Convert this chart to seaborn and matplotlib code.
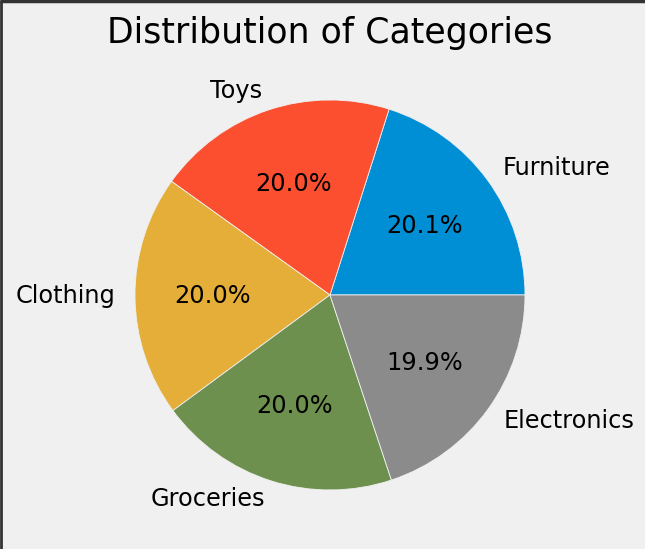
import matplotlib
matplotlib.use("Agg")
import matplotlib.pyplot as plt
from matplotlib.lines import Line2D
import seaborn as sns

categories = ["Furniture", "Toys", "Clothing", "Groceries", "Electronics"]
values = [201, 200, 200, 200, 199]
colors_hex = ["#008fd5", "#fc4f30", "#e5ae38", "#6d904f", "#8b8b8b"]
title = "Distribution of Categories"

plt.style.use("fivethirtyeight")
palette = sns.color_palette(colors_hex)

fig = plt.figure(figsize=(6.45, 5.49), dpi=100, facecolor="#f0f0f0")
ax = fig.add_axes([0.1337, 0.0187, 0.7558, 0.888])
ax.pie(values, labels=categories, colors=palette, autopct="%1.1f%%",
       textprops={"fontsize": 17.3},
       wedgeprops={"edgecolor": "#f0f0f0", "linewidth": 0.6})
ax.set_aspect("equal")
ax.set_title(title, fontsize=25, pad=6)

fig.add_artist(Line2D([0, 1], [0.998, 0.998], transform=fig.transFigure, color="#333333", linewidth=2.5))
fig.add_artist(Line2D([0.0015, 0.0015], [0, 1], transform=fig.transFigure, color="#333333", linewidth=2))

fig.savefig("out.png", dpi=100, facecolor=fig.get_facecolor())
